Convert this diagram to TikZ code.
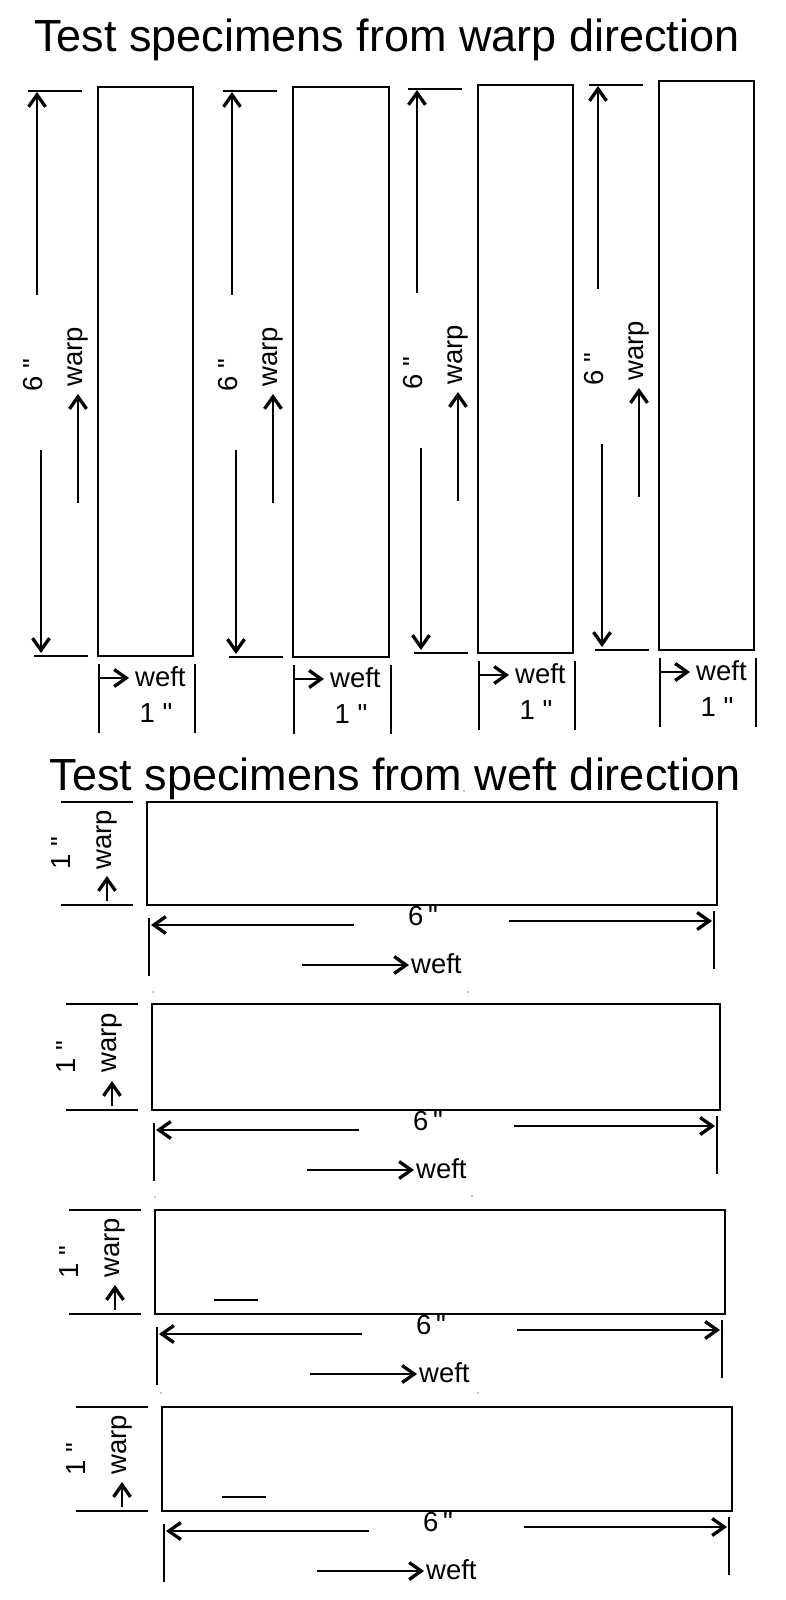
\documentclass[tikz,border=0pt]{standalone}
\usepackage{fontspec}
\setmainfont{Liberation Sans}
\newfontfamily\qfont{Liberation Sans}
\usetikzlibrary{arrows.meta}
\newcommand\inch{{\qfont\symbol{34}}}
\tikzset{
  box/.style={draw=black,line width=2pt},
  tick/.style={draw=black,line width=2pt},
  arr/.style={draw=black,line width=1.8pt,-{Straight Barb[length=12pt,width=17pt,line width=3.3pt]}},
  lab/.style={inner sep=0pt,font=\fontsize{27.5}{31}\selectfont},
  ttl/.style={inner sep=0pt,font=\fontsize{45}{51}\selectfont},
  speck/.style={fill=black!45}
}
% #1=L #2=R #3=T #4=B #5=id
\newcommand\warpcol[5]{%
  \coordinate (#5-nw) at (#1,#3);
  \coordinate (#5-se) at (#2,#4);
  \draw[box] (#5-nw) rectangle (#5-se);
  \coordinate (#5-tt1) at (#1-70,#3+4);
  \coordinate (#5-tt2) at (#1-16,#3+4);
  \draw[tick] (#5-tt1) -- (#5-tt2);
  \coordinate (#5-ua1) at (#1-61,#3+208);
  \coordinate (#5-ua2) at (#1-61,#3+5);
  \draw[arr] (#5-ua1) -- (#5-ua2);
  \node[lab,rotate=90] (#5-six) at (#1-65,#3+288) {6 \inch};
  \coordinate (#5-la1) at (#1-57,#3+363);
  \coordinate (#5-la2) at (#1-57,#4-3);
  \draw[arr] (#5-la1) -- (#5-la2);
  \coordinate (#5-bt1) at (#1-64,#4);
  \coordinate (#5-bt2) at (#1-10,#4);
  \draw[tick] (#5-bt1) -- (#5-bt2);
  \node[lab,rotate=90] (#5-warp) at (#1-20,#3+270) {warp};
  \coordinate (#5-wa1) at (#1-20,#3+416);
  \coordinate (#5-wa2) at (#1-20,#3+307);
  \draw[arr] (#5-wa1) -- (#5-wa2);
  \coordinate (#5-wl1) at (#1+1,#4+8);
  \coordinate (#5-wl2) at (#1+1,#4+77);
  \coordinate (#5-wr1) at (#2+2,#4+8);
  \coordinate (#5-wr2) at (#2+2,#4+77);
  \draw[tick] (#5-wl1) -- (#5-wl2);
  \draw[tick] (#5-wr1) -- (#5-wr2);
  \coordinate (#5-fa1) at (#1+1,#4+22);
  \coordinate (#5-fa2) at (#1+31,#4+22);
  \draw[arr] (#5-fa1) -- (#5-fa2);
  \node[lab,anchor=west] (#5-weft) at (#1+37,#4+21) {weft};
  \node[lab] (#5-one) at (#1+58,#4+57) {1 \inch};
}
\newcommand\weftrow[5]{%
  \coordinate (#5-nw) at (#1,#3);
  \coordinate (#5-se) at (#2,#4);
  \draw[box] (#5-nw) rectangle (#5-se);
  \coordinate (#5-t1) at (#1-86,#3);
  \coordinate (#5-t2) at (#1-14,#3);
  \coordinate (#5-b1) at (#1-86,#4);
  \coordinate (#5-b2) at (#1-14,#4);
  \draw[tick] (#5-t1) -- (#5-t2);
  \draw[tick] (#5-b1) -- (#5-b2);
  \node[lab,rotate=90] (#5-one) at (#1-86,{(#3+#4)/2}) {1 \inch};
  \node[lab,rotate=90] (#5-warp) at (#1-40,{(#3+#4)/2-14}) {warp};
  \coordinate (#5-wa1) at (#1-40,#4-4);
  \coordinate (#5-wa2) at (#1-40,#4-29);
  \draw[arr] (#5-wa1) -- (#5-wa2);
  \coordinate (#5-lt1) at (#1+2,#4+13);
  \coordinate (#5-lt2) at (#1+2,#4+71);
  \draw[tick] (#5-lt1) -- (#5-lt2);
  \coordinate (#5-la1) at (#1+207,#4+20);
  \coordinate (#5-la2) at (#1+4,#4+20);
  \draw[arr] (#5-la1) -- (#5-la2);
  \node[lab] (#5-six) at (#1+276,#4+11) {6\,\inch};
  \coordinate (#5-ra1) at (#1+362,#4+16);
  \coordinate (#5-ra2) at (#2-5,#4+16);
  \draw[arr] (#5-ra1) -- (#5-ra2);
  \coordinate (#5-rt1) at (#2-3,#4+6);
  \coordinate (#5-rt2) at (#2-3,#4+64);
  \draw[tick] (#5-rt1) -- (#5-rt2);
  \coordinate (#5-fa1) at (#1+155,#4+60);
  \coordinate (#5-fa2) at (#1+262,#4+60);
  \draw[arr] (#5-fa1) -- (#5-fa2);
  \node[lab,anchor=west] (#5-weft) at (#1+264,#4+59) {weft};
}
\begin{document}
\begin{tikzpicture}[x=1pt,y=-1pt]
\useasboundingbox (0,0) rectangle (786,1600);
\node[ttl,anchor=base] (title1) at (387,52) {Test specimens from warp direction};
\warpcol{98}{193}{87}{656}{c1}
\warpcol{293}{389}{87}{657}{c2}
\warpcol{478}{573}{85}{653}{c3}
\warpcol{659}{754}{81}{650}{c4}
\node[ttl,anchor=base] (title2) at (395,790) {Test specimens from weft direction};
\weftrow{147}{717}{802}{905}{r1}
\weftrow{152}{720}{1004}{1110}{r2}
\weftrow{155}{725}{1210}{1314}{r3}
\weftrow{162}{732}{1407}{1511}{r4}
% short marks inside rows 3 and 4
\coordinate (m3a) at (214,1300); \coordinate (m3b) at (258,1300);
\draw[tick] (m3a) -- (m3b);
\coordinate (m4a) at (222,1497); \coordinate (m4b) at (266,1497);
\draw[tick] (m4a) -- (m4b);
% small specks
\fill[speck] (464,791) circle (0.9);
\fill[speck] (153,992) circle (0.9);
\fill[speck] (468,992) circle (0.9);
\fill[speck] (155,1197) circle (0.9);
\fill[speck] (472,1196) circle (0.9);
\fill[speck] (161,1393) circle (0.9);
\fill[speck] (478,1393) circle (0.9);
\end{tikzpicture}
\end{document}
